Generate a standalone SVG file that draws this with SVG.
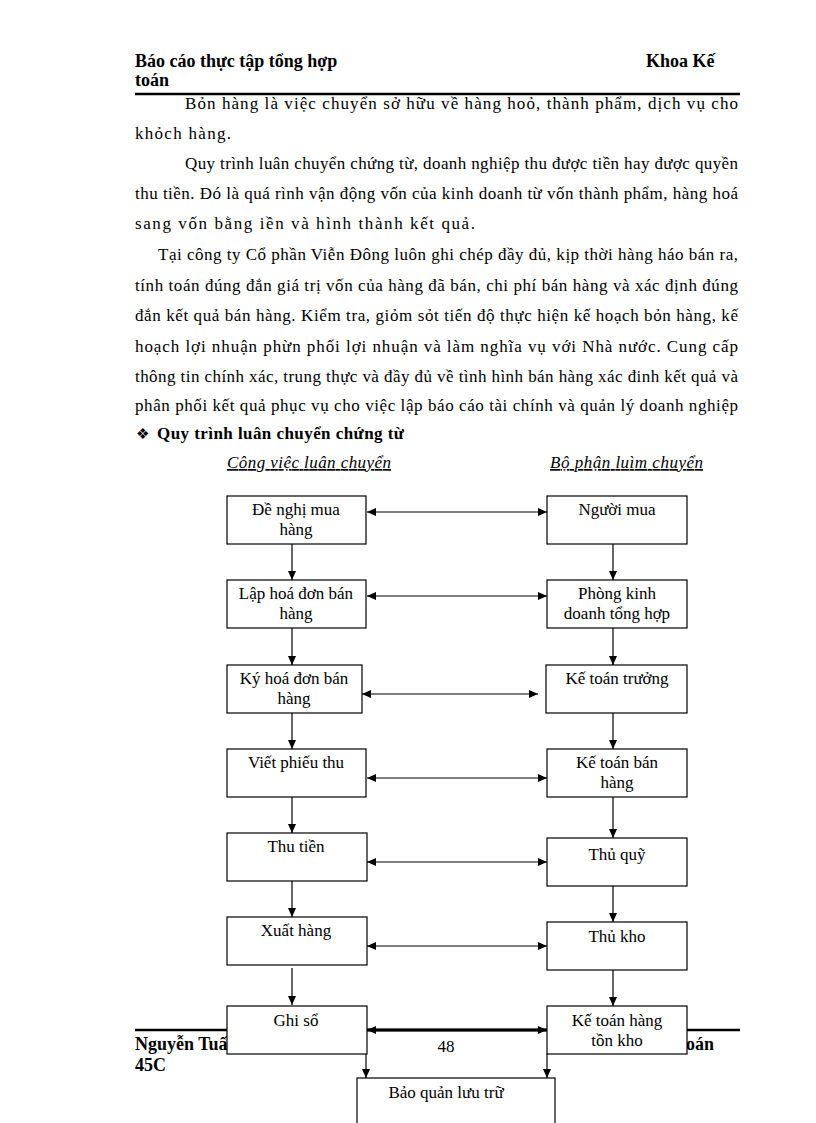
<svg xmlns="http://www.w3.org/2000/svg" width="816" height="1123" viewBox="0 0 816 1123">
<style>
.hd{font-family:"Liberation Serif",serif;font-size:18px;font-weight:bold;fill:#000}
.bd{font-family:"Liberation Serif",serif;font-size:17px;fill:#000}
.ch{font-family:"Liberation Serif",serif;font-size:17px;font-style:italic;text-decoration:underline;fill:#000}
.nt{font-family:"Liberation Serif",serif;font-size:17px;fill:#000;text-anchor:middle}
.box{fill:#fff;stroke:#000;stroke-width:1.2}
.cn{stroke:#000;stroke-width:1.2;fill:none}
.rule{stroke:#000;stroke-width:2.5}
</style>
<defs>
<marker id="ah" viewBox="0 0 9 8" refX="9" refY="4" markerWidth="9" markerHeight="8" markerUnits="userSpaceOnUse" orient="auto-start-reverse">
<path d="M0,0 L9,4 L0,8 z" fill="#000"/>
</marker>
</defs>
<rect width="816" height="1123" fill="#fff"/>
<g id="header">
<text class="hd" x="135" y="67">Báo cáo thực tập tổng hợp</text>
<text class="hd" x="646" y="67">Khoa Kế</text>
<text class="hd" x="135" y="86">toán</text>
<line class="rule" x1="135" y1="94" x2="740" y2="94"/>
</g>
<g id="body">
<text class="bd" x="185" y="109" textLength="553" lengthAdjust="spacing">Bỏn hàng là việc chuyển sở hữu về hàng hoỏ, thành phẩm, dịch vụ cho</text>
<text class="bd" x="135" y="139" textLength="96" lengthAdjust="spacing">khỏch hàng.</text>
<text class="bd" x="185" y="169" textLength="553" lengthAdjust="spacing">Quy trình luân chuyển chứng từ, doanh nghiệp thu được tiền hay được quyền</text>
<text class="bd" x="135" y="199" textLength="603" lengthAdjust="spacing">thu tiền. Đó là quá rình vận động vốn của kinh doanh từ vốn thành phẩm, hàng hoá</text>
<text class="bd" x="135" y="229" textLength="340" lengthAdjust="spacing">sang vốn bằng iền và hình thành kết quả.</text>
<text class="bd" x="158" y="260" textLength="580" lengthAdjust="spacing">Tại công ty Cổ phần Viễn Đông luôn ghi chép đầy đủ, kịp thời hàng háo bán ra,</text>
<text class="bd" x="135" y="291" textLength="603" lengthAdjust="spacing">tính toán đúng đắn giá trị vốn của hàng đã bán, chi phí bán hàng và xác định đúng</text>
<text class="bd" x="135" y="321" textLength="603" lengthAdjust="spacing">đắn kết quả bán hàng. Kiểm tra, giỏm sỏt tiến độ thực hiện kế hoạch bỏn hàng, kế</text>
<text class="bd" x="135" y="352" textLength="603" lengthAdjust="spacing">hoạch lợi nhuận phừn phối lợi nhuận và làm nghĩa vụ với Nhà nước. Cung cấp</text>
<text class="bd" x="135" y="382" textLength="603" lengthAdjust="spacing">thông tin chính xác, trung thực và đầy đủ về tình hình bán hàng xác đinh kết quả và</text>
<text class="bd" x="135" y="411" textLength="603" lengthAdjust="spacing">phân phối kết quả phục vụ cho việc lập báo cáo tài chính và quản lý doanh nghiệp</text>
<text x="136" y="439" style="font-family:'DejaVu Sans',sans-serif;font-size:15px;fill:#000">❖</text>
<text class="bd" x="157" y="439" font-weight="bold" textLength="247" lengthAdjust="spacing">Quy trình luân chuyển chứng từ</text>
<text class="ch" x="227" y="468" textLength="164" lengthAdjust="spacing">Công việc luân chuyển</text>
<text class="ch" x="550" y="468" textLength="153" lengthAdjust="spacing">Bộ phận luìm chuyển</text>
</g>
<g id="footer">
<line class="rule" x1="135" y1="1030" x2="740" y2="1030"/>
<text class="hd" x="135" y="1050">Nguyễn Tuấn</text>
<text class="hd" x="135" y="1071">45C</text>
<text class="hd" x="714" y="1050" text-anchor="end">toán</text>
</g>
<g id="n1"><rect class="box" x="227" y="496" width="139" height="48"/><text class="nt" x="296" y="515">Đề nghị mua</text><text class="nt" x="296" y="535">hàng</text></g>
<g id="n2"><rect class="box" x="227" y="580" width="139" height="48"/><text class="nt" x="296" y="599">Lập hoá đơn bán</text><text class="nt" x="296" y="619">hàng</text></g>
<g id="n3"><rect class="box" x="227" y="665" width="135" height="48"/><text class="nt" x="294" y="684">Ký hoá đơn bán</text><text class="nt" x="294" y="704">hàng</text></g>
<g id="n4"><rect class="box" x="227" y="749" width="139" height="48"/><text class="nt" x="296" y="768">Viết phiếu thu</text></g>
<g id="n5"><rect class="box" x="227" y="833" width="140" height="48"/><text class="nt" x="296" y="852">Thu tiền</text></g>
<g id="n6"><rect class="box" x="227" y="917" width="140" height="48"/><text class="nt" x="296" y="936">Xuất hàng</text></g>
<g id="n7"><rect class="box" x="227" y="1006" width="140" height="48"/><text class="nt" x="296" y="1026">Ghi sổ</text></g>
<g id="r1"><rect class="box" x="547" y="496" width="140" height="48"/><text class="nt" x="617" y="515">Người mua</text></g>
<g id="r2"><rect class="box" x="547" y="580" width="140" height="48"/><text class="nt" x="617" y="599">Phòng kinh</text><text class="nt" x="617" y="619">doanh tổng hợp</text></g>
<g id="r3"><rect class="box" x="546" y="665" width="141" height="48"/><text class="nt" x="617" y="684">Kế toán trưởng</text></g>
<g id="r4"><rect class="box" x="547" y="749" width="140" height="48"/><text class="nt" x="617" y="768">Kế toán bán</text><text class="nt" x="617" y="788">hàng</text></g>
<g id="r5"><rect class="box" x="547" y="838" width="140" height="48"/><text class="nt" x="617" y="860">Thủ quỹ</text></g>
<g id="r6"><rect class="box" x="547" y="922" width="140" height="48"/><text class="nt" x="617" y="942">Thủ kho</text></g>
<g id="r7"><rect class="box" x="547" y="1006" width="140" height="48"/><text class="nt" x="617" y="1026">Kế toán hàng</text><text class="nt" x="617" y="1046">tồn kho</text></g>
<g id="n8"><rect class="box" x="357" y="1078" width="198" height="60"/><text class="nt" x="446" y="1098">Bảo quản lưu trữ</text></g>
<g id="pagenum"><text class="nt" x="446" y="1052">48</text></g>
<g id="connectors">
<line class="cn" x1="292" y1="544" x2="292" y2="580" marker-end="url(#ah)"/>
<line class="cn" x1="292" y1="628" x2="292" y2="665" marker-end="url(#ah)"/>
<line class="cn" x1="292" y1="713" x2="292" y2="749" marker-end="url(#ah)"/>
<line class="cn" x1="292" y1="797" x2="292" y2="833" marker-end="url(#ah)"/>
<line class="cn" x1="292" y1="881" x2="292" y2="917" marker-end="url(#ah)"/>
<line class="cn" x1="292" y1="968" x2="292" y2="1005" marker-end="url(#ah)"/>
<line class="cn" x1="613" y1="544" x2="613" y2="580" marker-end="url(#ah)"/>
<line class="cn" x1="613" y1="628" x2="613" y2="665" marker-end="url(#ah)"/>
<line class="cn" x1="613" y1="713" x2="613" y2="749" marker-end="url(#ah)"/>
<line class="cn" x1="613" y1="797" x2="613" y2="838" marker-end="url(#ah)"/>
<line class="cn" x1="613" y1="886" x2="613" y2="922" marker-end="url(#ah)"/>
<line class="cn" x1="613" y1="970" x2="613" y2="1006" marker-end="url(#ah)"/>
<line class="cn" x1="366" y1="1054" x2="366" y2="1078" marker-end="url(#ah)"/>
<line class="cn" x1="547" y1="1054" x2="547" y2="1078" marker-end="url(#ah)"/>
<line class="cn" x1="367" y1="512" x2="547" y2="512" marker-start="url(#ah)" marker-end="url(#ah)"/>
<line class="cn" x1="367" y1="596" x2="547" y2="596" marker-start="url(#ah)" marker-end="url(#ah)"/>
<line class="cn" x1="362" y1="694" x2="538" y2="694" marker-start="url(#ah)" marker-end="url(#ah)"/>
<line class="cn" x1="367" y1="778" x2="547" y2="778" marker-start="url(#ah)" marker-end="url(#ah)"/>
<line class="cn" x1="367" y1="862" x2="547" y2="862" marker-start="url(#ah)" marker-end="url(#ah)"/>
<line class="cn" x1="367" y1="946" x2="547" y2="946" marker-start="url(#ah)" marker-end="url(#ah)"/>
<line class="cn" x1="367" y1="1030" x2="547" y2="1030" marker-start="url(#ah)" marker-end="url(#ah)" style="stroke-width:3"/>
</g>
</svg>
